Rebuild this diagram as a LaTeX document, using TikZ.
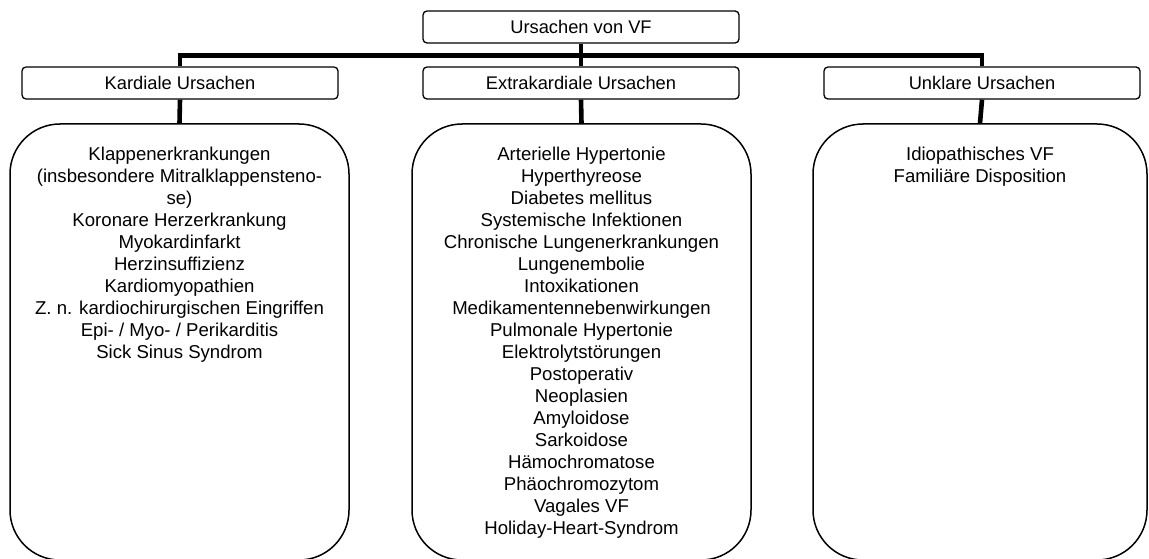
\documentclass[tikz,border=0pt]{standalone}
\usepackage{fontspec}
\setmainfont{Liberation Sans}
\usetikzlibrary{positioning,calc}
\tikzset{
  hdrbox/.style={draw=black, line width=1.3pt, rounded corners=4pt, minimum width=316pt, minimum height=32pt, inner sep=0pt, font=\fontsize{18.3}{20.7}\selectfont},
  bigbox/.style={draw=black, line width=1.5pt, rounded corners=50pt, minimum height=436pt, inner sep=0pt},
  listtext/.style={anchor=north, align=center, inner sep=0pt, font=\fontsize{18.6}{22}\selectfont},
  bar/.style={line width=4.6pt, line join=miter, draw=black}
}
\begin{document}
\begin{tikzpicture}[x=1pt,y=-1pt]
\useasboundingbox (0,0) rectangle (1149,559);
\clip (0,0) rectangle (1149,559);
% header nodes
\node[hdrbox] (top) at (581,27) {Ursachen von VF};
\node[hdrbox] (k) at (180,83) {Kardiale Ursachen};
\node[hdrbox] (e) at (581,83) {Extrakardiale Ursachen};
\node[hdrbox] (u) at (982,83) {Unklare Ursachen};
% big boxes
\node[bigbox, minimum width=339pt] (K) at (179.5,342) {};
\node[bigbox, minimum width=339pt] (E) at (581.5,342) {};
\node[bigbox, minimum width=334pt] (U) at (980,342) {};
% texts
\node[listtext] (Kt) at ($(K.north)+(0,24)$) {Klappenerkrankungen\\(insbesondere Mitralklappensteno-\\se)\\Koronare Herzerkrankung\\Myokardinfarkt\\Herzinsuffizienz\\Kardiomyopathien\\Z. n. kardiochirurgischen Eingriffen\\Epi- / Myo- / Perikarditis\\Sick Sinus Syndrom};
\node[listtext] (Et) at ($(E.north)+(0,24)$) {Arterielle Hypertonie\\Hyperthyreose\\Diabetes mellitus\\Systemische Infektionen\\Chronische Lungenerkrankungen\\Lungenembolie\\Intoxikationen\\Medikamentennebenwirkungen\\Pulmonale Hypertonie\\Elektrolytstörungen\\Postoperativ\\Neoplasien\\Amyloidose\\Sarkoidose\\Hämochromatose\\Phäochromozytom\\Vagales VF\\Holiday-Heart-Syndrom};
\node[listtext] (Ut) at ($(U.north)+(0,24)$) {Idiopathisches VF\\Familiäre Disposition};
% connectors
\coordinate (j) at ($(top.south)+(0,12)$);
\draw[bar] (top.south) -- (j);
\draw[bar] (j) -| (k.north);
\draw[bar] (j) -| (u.north);
\draw[bar] (j) -- (e.north);
\draw[bar] (k.south) -- (K.north);
\draw[bar] (e.south) -- (E.north);
\draw[bar] (u.south) -- (U.north);
\end{tikzpicture}
\end{document}
